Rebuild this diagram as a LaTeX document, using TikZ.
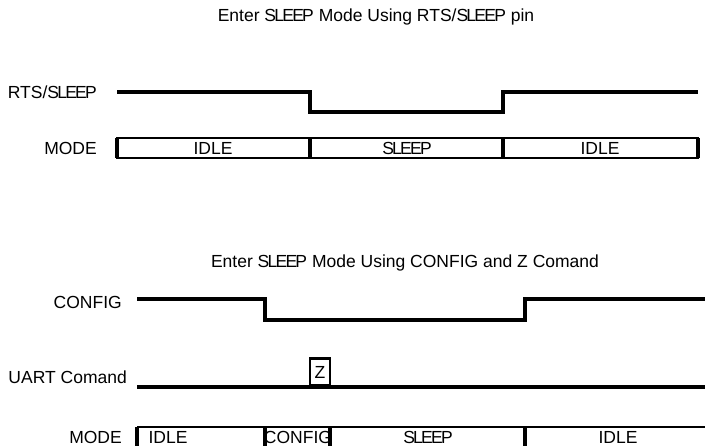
\documentclass[tikz,border=0pt]{standalone}
\usepackage{fontspec}
\setmainfont{Liberation Sans}
\newcommand{\slp}{{\addfontfeature{LetterSpace=-10}SLEEP}}
\begin{document}
\begin{tikzpicture}[x=1pt, y=-1pt, font=\fontsize{17.5}{20}\selectfont, line join=miter,
	sig/.style={line width=3.2pt},
	seg/.style={line width=2.5pt},
	lbl/.style={anchor=east, inner sep=0pt}]
	\useasboundingbox (0,0) rectangle (705,446);
	% RTS/SLEEP pin
	\node (T1) at (376,17) {Enter \slp{} Mode Using RTS/\slp{} pin};
	\node[lbl] (RTS) at (97,92) {RTS/\slp};
		\coordinate (A0) at (117,92);
		\coordinate (A1) at (310,92);
		\coordinate (A2) at (310,112);
		\coordinate (A3) at (503,112);
		\coordinate (A4) at (503,92);
		\coordinate (A5) at (698,92);
	\draw[sig] (A0)--(A1)--(A2)--(A3)--(A4)--(A5);
	\node[lbl] (M1) at (97,148) {MODE};
	\draw[seg] (117,138) rectangle (698,158);
		\foreach \x in {117,310,503,698} \draw[sig] (\x,138)--(\x,158);
		\foreach \x/\t [count=\i] in {213/IDLE,407/\slp,600/IDLE} \node (P\i) at (\x,148) {\t};
	% CONFIG and Z command
	\node (T2) at (405,263) {Enter \slp{} Mode Using CONFIG and Z Comand};
	\node[lbl] (CFG) at (122,302) {CONFIG};
		\coordinate (B0) at (137,299);
		\coordinate (B1) at (265,299);
		\coordinate (B2) at (265,320);
		\coordinate (B3) at (525,320);
		\coordinate (B4) at (525,299);
		\coordinate (B5) at (705,299);
	\draw[sig] (B0)--(B1)--(B2)--(B3)--(B4)--(B5);
	\node[lbl] (UART) at (127,377) {UART Comand};
		\coordinate (C0) at (137,387);
		\coordinate (C1) at (705,387);
	\draw[sig] (C0)--(C1);
	\node[draw, line width=2.6pt, minimum width=20pt, minimum height=27pt, inner sep=0pt, anchor=south] (Z) at (320,387) {Z};
	\node[lbl] (M2) at (122,437) {MODE};
	\draw[seg] (137,427)--(712,427) (137,448)--(712,448);
		\foreach \x in {137,265,330,525} \draw[sig] (\x,427)--(\x,448);
		\foreach \x/\t [count=\i] in {168/IDLE,298/CONFIG,428/\slp,618/IDLE} \node (Q\i) at (\x,437) {\t};
\end{tikzpicture}
\end{document}
